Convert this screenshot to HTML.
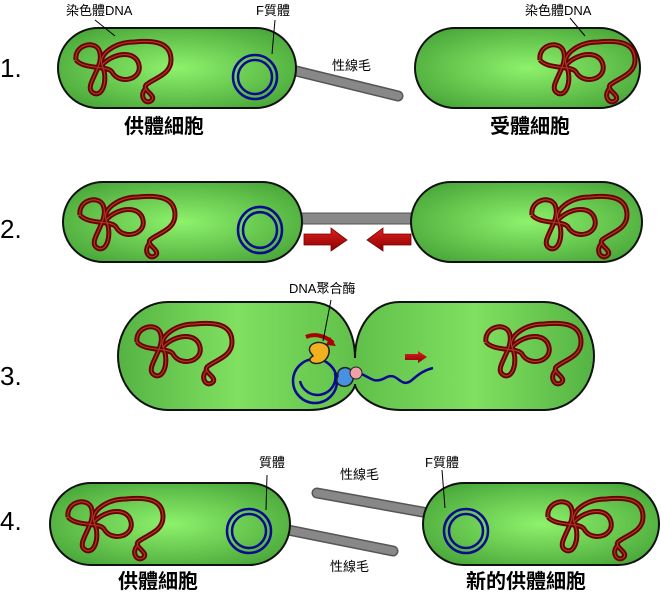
<!DOCTYPE html>
<html><head><meta charset="utf-8"><style>
html,body{margin:0;padding:0;background:#fff;}
svg{display:block;}
text{font-family:"Liberation Sans","Noto Sans CJK TC",sans-serif;}
</style></head><body>
<svg width="661" height="599" viewBox="0 0 661 599" xmlns="http://www.w3.org/2000/svg">
<defs>
<radialGradient id="g" cx="50%" cy="50%" r="60%">
<stop offset="0" stop-color="#8ef26c"/><stop offset="1" stop-color="#4aa83a"/>
</radialGradient>
<linearGradient id="g3" x1="0" y1="0" x2="1" y2="0">
<stop offset="0" stop-color="#55b343"/><stop offset="0.25" stop-color="#80e060"/><stop offset="0.5" stop-color="#60c04a"/><stop offset="0.75" stop-color="#80e060"/><stop offset="1" stop-color="#55b343"/>
</linearGradient>
<linearGradient id="ar" x1="0" y1="0" x2="0" y2="1"><stop offset="0" stop-color="#e02020"/><stop offset="1" stop-color="#8a0000"/></linearGradient>
<g id="chr">
<path d="M2,20 C0,5 20,0 25,10 C32,25 10,45 18,52 C28,60 35,40 28,25 C24,15 40,2 60,2 C80,0 97,2 97,20 C97,35 80,38 72,45 C68,50 82,55 78,60 C72,66 64,56 72,48 M28,25 C40,12 62,10 65,25 C68,40 45,45 38,32 C34,25 10,30 2,20" fill="none" stroke="#6e0000" stroke-width="5"/>
<path d="M2,20 C0,5 20,0 25,10 C32,25 10,45 18,52 C28,60 35,40 28,25 C24,15 40,2 60,2 C80,0 97,2 97,20 C97,35 80,38 72,45 C68,50 82,55 78,60 C72,66 64,56 72,48 M28,25 C40,12 62,10 65,25 C68,40 45,45 38,32 C34,25 10,30 2,20" fill="none" stroke="#a33a2a" stroke-width="1.2"/>
</g>
<g id="pl"><circle r="22" fill="none" stroke="#0a0a90" stroke-width="2.5"/><circle r="17" fill="none" stroke="#0a0a90" stroke-width="2.5"/></g>
</defs>

<g font-size="26" fill="#000">
<text x="0" y="77">1.</text><text x="0" y="238">2.</text><text x="0" y="385">3.</text><text x="0" y="530">4.</text>
</g>

<!-- Row 1 -->
<line x1="292" y1="70" x2="398" y2="96" stroke="#555" stroke-width="11" stroke-linecap="round"/>
<line x1="292" y1="70" x2="398" y2="96" stroke="#888" stroke-width="8" stroke-linecap="round"/>
<rect x="58" y="28" width="238" height="80" rx="40" fill="url(#g)" stroke="#111" stroke-width="2"/>
<rect x="415" y="28" width="225" height="80" rx="40" fill="url(#g)" stroke="#111" stroke-width="2"/>
<use href="#chr" x="74" y="40"/>
<use href="#chr" x="538" y="40"/>
<use href="#pl" x="255" y="77"/>
<line x1="95" y1="20" x2="115" y2="36" stroke="#000"/>
<line x1="275" y1="20" x2="272" y2="54" stroke="#000"/>
<line x1="570" y1="18" x2="585" y2="36" stroke="#000"/>
<g font-size="13" fill="#000">
<text x="66" y="15">染色體DNA</text><text x="256" y="15">F質體</text><text x="525" y="15">染色體DNA</text>
<text x="332" y="70">性線毛</text>
</g>
<g font-size="20" font-weight="bold" fill="#000">
<text x="124" y="133">供體細胞</text><text x="490" y="133">受體細胞</text>
</g>

<!-- Row 2 -->
<rect x="298" y="213" width="118" height="11" fill="#888" stroke="#555" stroke-width="1"/>
<rect x="63" y="182" width="239" height="80" rx="40" fill="url(#g)" stroke="#111" stroke-width="2"/>
<rect x="411" y="182" width="231" height="80" rx="40" fill="url(#g)" stroke="#111" stroke-width="2"/>
<use href="#chr" x="78" y="195"/>
<use href="#chr" x="530" y="195"/>
<g transform="translate(260,230) scale(1,1.05)"><use href="#pl"/></g>
<path d="M304,234 H331 V228 L347,240 L331,251 V245 H304 Z" fill="url(#ar)" stroke="#700" stroke-width="0.8"/>
<path d="M411,234 H383 V228 L367,240 L383,251 V245 H411 Z" fill="url(#ar)" stroke="#700" stroke-width="0.8"/>

<!-- Row 3 -->
<path d="M168,302 H310 C338,302 355,328 355,358 C355,328 372,302 400,302 H544 A50,54 0 0 1 544,410 H400 C372,410 355,392 355,384 C355,392 338,410 310,410 H168 A50,54 0 0 1 168,302 Z" fill="url(#g3)" stroke="#111" stroke-width="2"/>
<use href="#chr" x="135" y="322"/>
<use href="#chr" x="484" y="322"/>
<circle cx="315" cy="381" r="22" fill="none" stroke="#0a0a90" stroke-width="2.5"/>
<path d="M300,381 A16,16 0 1 0 335,373" fill="none" stroke="#0a0a90" stroke-width="2.5"/>
<path d="M355,372 C370,375 372,385 385,378 C398,370 400,390 412,380 C420,373 425,370 433,368" fill="none" stroke="#0a0a90" stroke-width="2.5"/>
<path d="M306,337 C315,333 326,336 333,343" fill="none" stroke="#a00" stroke-width="4"/>
<path d="M330,337 L336,346 L326,345 Z" fill="#a00"/>
<path d="M310,352 C307,344 318,340 325,344 C332,347 330,360 320,363 C312,365 306,360 313,356 Z" fill="#f0b020" stroke="#222" stroke-width="1.5"/>
<path d="M338,376 C336,368 348,364 352,372 C356,380 350,388 342,386 C336,384 336,380 338,376 Z" fill="#4a90e0" stroke="#222" stroke-width="1.5"/>
<circle cx="356" cy="373" r="6" fill="#f0a0a8" stroke="#222" stroke-width="1"/>
<path d="M405,354 H418 V351 L427,357 L418,363 V360 H405 Z" fill="url(#ar)"/>
<line x1="331" y1="300" x2="323" y2="341" stroke="#000"/>
<text x="289" y="293" font-size="13">DNA聚合酶</text>

<!-- Row 4 -->
<line x1="288" y1="530" x2="393" y2="551" stroke="#555" stroke-width="11" stroke-linecap="round"/>
<line x1="288" y1="530" x2="393" y2="551" stroke="#888" stroke-width="8" stroke-linecap="round"/>
<line x1="317" y1="493" x2="428" y2="513" stroke="#555" stroke-width="11" stroke-linecap="round"/>
<line x1="317" y1="493" x2="428" y2="513" stroke="#888" stroke-width="8" stroke-linecap="round"/>
<rect x="50" y="483" width="240" height="82" rx="41" fill="url(#g)" stroke="#111" stroke-width="2"/>
<rect x="423" y="483" width="236" height="82" rx="41" fill="url(#g)" stroke="#111" stroke-width="2"/>
<use href="#chr" x="66" y="497"/>
<use href="#chr" x="546" y="497"/>
<use href="#pl" x="249" y="531"/>
<use href="#pl" x="466" y="531"/>
<line x1="267" y1="475" x2="266" y2="510" stroke="#000"/>
<line x1="442" y1="470" x2="445" y2="508" stroke="#000"/>
<g font-size="13" fill="#000">
<text x="259" y="467">質體</text><text x="340" y="479">性線毛</text><text x="330" y="571">性線毛</text><text x="425" y="467">F質體</text>
</g>
<g font-size="20" font-weight="bold" fill="#000">
<text x="118" y="588">供體細胞</text><text x="466" y="588">新的供體細胞</text>
</g>
</svg>
</body></html>
